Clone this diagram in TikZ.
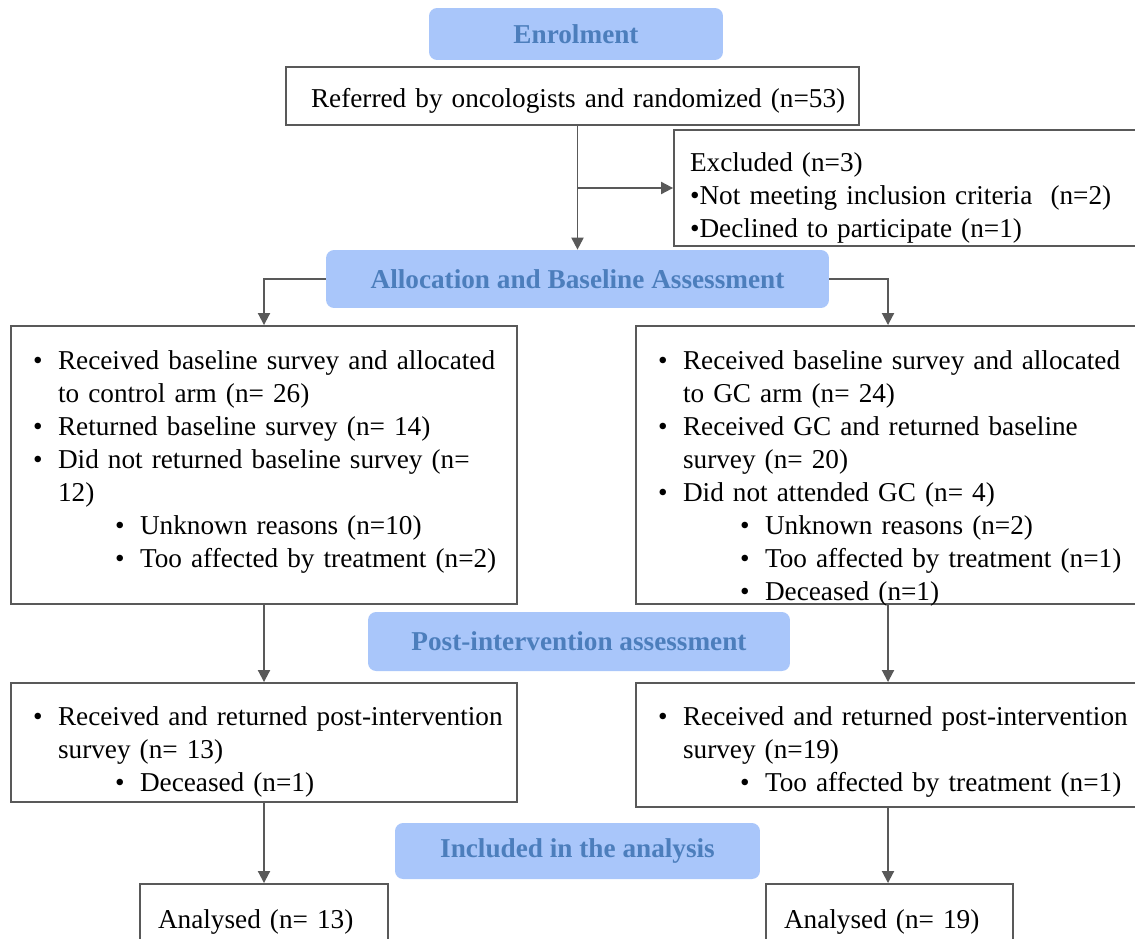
\documentclass[tikz,border=0pt]{standalone}
\usepackage{fontspec}
\setmainfont{Liberation Serif}
\usetikzlibrary{arrows.meta}

\definecolor{headFill}{RGB}{169,198,250}
\definecolor{headText}{RGB}{76,126,188}
\definecolor{lineGray}{RGB}{89,89,89}

% One line of a list inside a box
\newcommand{\mainItem}[1]{\noindent\makebox[0.5cm][l]{\textbullet}\mbox{#1}\par}
\newcommand{\contLine}[1]{\noindent\hspace*{0.5cm}\mbox{#1}\par}
\newcommand{\subItem}[1]{\noindent\hspace*{1.64cm}\makebox[0.5cm][l]{\textbullet}\mbox{#1}\par}

\tikzset{
	stage/.style={fill=headFill, text=headText, font=\fontsize{15.5}{18.8}\selectfont\bfseries, rounded corners=0.16cm, inner sep=0pt},
	infobox/.style={draw=lineGray, line width=1.1pt, font=\fontsize{15.5}{18.8}\selectfont, align=left, inner ysep=0pt},
	flowline/.style={draw=lineGray, line width=1.1pt, -{Triangle[length=0.24cm, width=0.24cm]}}
}

\begin{document}
\begin{tikzpicture}[x=0.02cm, y=-0.02cm]
		% Fix the size of the picture
		\useasboundingbox (0,0) rectangle (1135,939);
		\clip (0,0) rectangle (1135,939);
		
		% Stage headers
		\node[stage, minimum width=5.88cm, minimum height=1.04cm] (enrolHead) at (576,34) {Enrolment};
		\node[stage, minimum width=10.06cm, minimum height=1.16cm] (allocHead) at (577.5,279) {Allocation and Baseline Assessment};
		\node[stage, minimum width=8.44cm, minimum height=1.18cm] (postHead) at (579,641.5) {Post-intervention assessment};
		\node[stage, minimum width=7.3cm, minimum height=1.12cm] (inclHead) at (577.5,851) {Included in the analysis};
		
		% Enrolment
		\node[infobox, text width=10.46cm, inner xsep=0.5cm, text height=0.82cm, text depth=0.34cm] (referred) at (572.5,96) {\mbox{Referred by oncologists and randomized (n=53)}};
		\node[infobox, text width=8.88cm, inner xsep=0.32cm, text height=0.82cm, text depth=1.5cm] (excluded) at (912,188) {%
			Excluded (n=3)\par
			\textbullet Not meeting inclusion criteria~ (n=2)\par
			\textbullet Declined to participate (n=1)\par};
		
		% Baseline boxes
		\node[infobox, text width=9.24cm, inner xsep=0.44cm, text height=0.86cm, text depth=4.7cm] (ctlBase) at (264,465) {%
			\mainItem{Received baseline survey and allocated}
			\contLine{to control arm (n= 26)}
			\mainItem{Returned baseline survey (n= 14)}
			\mainItem{Did not returned baseline survey (n=}
			\contLine{12)}
			\subItem{Unknown reasons (n=10)}
			\subItem{Too affected by treatment (n=2)}};
		\node[infobox, text width=9.2cm, inner xsep=0.44cm, text height=0.86cm, text depth=4.7cm] (gcBase) at (888,465) {%
			\mainItem{Received baseline survey and allocated}
			\contLine{to GC arm (n= 24)}
			\mainItem{Received GC and returned baseline}
			\contLine{survey (n= 20)}
			\mainItem{Did not attended GC (n= 4)}
			\subItem{Unknown reasons (n=2)}
			\subItem{Too affected by treatment (n=1)}
			\subItem{Deceased (n=1)}};
		
		% Post-intervention boxes
		\node[infobox, text width=9.24cm, inner xsep=0.44cm, text height=0.84cm, text depth=1.54cm] (ctlPost) at (264,742.5) {%
			\mainItem{Received and returned post-intervention}
			\contLine{survey (n= 13)}
			\subItem{Deceased (n=1)}};
		\node[infobox, text width=9.2cm, inner xsep=0.44cm, text height=0.84cm, text depth=1.64cm] (gcPost) at (888,745) {%
			\mainItem{Received and returned post-intervention}
			\contLine{survey (n=19)}
			\subItem{Too affected by treatment (n=1)}};
		
		% Analysis boxes
		\node[infobox, text width=4.24cm, inner xsep=0.36cm, text height=0.88cm, text depth=1.3cm] (ctlAna) at (264,938.5) {Analysed (n= 13)};
		\node[infobox, text width=4.22cm, inner xsep=0.36cm, text height=0.88cm, text depth=1.3cm] (gcAna) at (889.5,938.5) {Analysed (n= 19)};
		
		% Connectors
		\draw[flowline] (referred.south -| allocHead.north) -- (allocHead.north);
		\draw[flowline] (excluded.west -| allocHead.north) -- (excluded.west);
		\draw[flowline] (allocHead.west) -| (ctlBase.north);
		\draw[flowline] (allocHead.east) -| (gcBase.north);
		\draw[flowline] (ctlBase.south) -- (ctlPost.north);
		\draw[flowline] (gcBase.south) -- (gcPost.north);
		\draw[flowline] (ctlPost.south) -- (ctlAna.north);
		\draw[flowline] (gcPost.south) -- (gcPost.south |- gcAna.north);
	\end{tikzpicture}
\end{document}
